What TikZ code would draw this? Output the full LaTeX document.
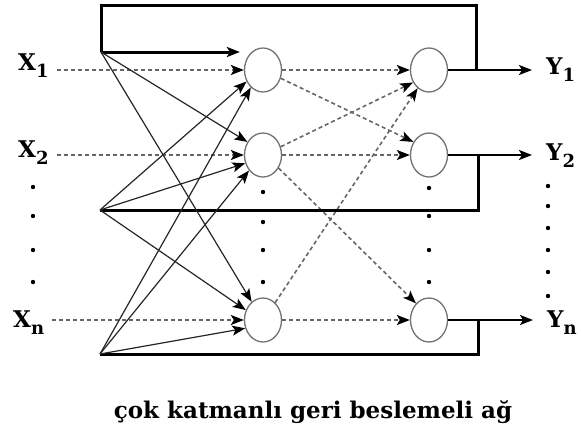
\documentclass[tikz,border=0pt]{standalone}
\usepackage{fontspec}
\setmainfont{DejaVu Serif}
\usepackage{tikz}
\usetikzlibrary{arrows.meta, calc, shapes.geometric}

\newcommand{\idx}[2]{#1\raisebox{-7pt}{\fontsize{18}{18}\selectfont #2}}

\begin{document}
\begin{tikzpicture}[
      x=1pt, y=-1pt, % pixel grid, downwards
      >={Stealth[length=13pt,width=10pt,inset=3pt,color=black]},
      font=\fontsize{23}{23}\selectfont\bfseries,
      neuron/.style={ellipse, draw=black!55, line width=1.3pt,
                     minimum width=37pt, minimum height=44pt, inner sep=0pt},
      inlink/.style={->, draw=black!60, line width=1.6pt, dash pattern=on 4pt off 3pt},
      fan/.style={->, draw=black!85, line width=1.2pt},
      back/.style={line width=3pt, black},
      outlink/.style={->, line width=2pt, black},
      dot/.style={fill=black},
    ]
    \useasboundingbox (0,0) rectangle (581,432);

    % ---- neurons ---------------------------------------------------------
    \node[neuron] (h1) at (263,70)  {};
    \node[neuron] (h2) at (263,155) {};
    \node[neuron] (h3) at (263,320) {};
    \node[neuron] (o1) at (429,70)  {};
    \node[neuron] (o2) at (429,155) {};
    \node[neuron] (o3) at (429,320) {};

    % ---- inputs and outputs ----------------------------------------------
    \node[anchor=base west, inner sep=0pt] (x1) at (18,70)  {\idx{X}{1}};
    \node[anchor=base west, inner sep=0pt] (x2) at (18,157) {\idx{X}{2}};
    \node[anchor=base west, inner sep=0pt] (xn) at (13,327) {\idx{X}{n}};
    \node[anchor=base west, inner sep=0pt] (y1) at (546,74)  {\idx{Y}{1}};
    \node[anchor=base west, inner sep=0pt] (y2) at (546,160) {\idx{Y}{2}};
    \node[anchor=base west, inner sep=0pt] (yn) at (547,327) {\idx{Y}{n}};

    % ---- feedback points -------------------------------------------------
    \coordinate (fa) at (101,52);
    \coordinate (fb) at (100,210);
    \coordinate (fc) at (100,354);
    \coordinate (t1) at (476,70);
    \coordinate (t2) at (478,155);
    \coordinate (t3) at (478,320);

    % ---- input layer -----------------------------------------------------
    \draw[inlink, shorten <=8pt] (x1.east |- h1) -- (h1.west);
    \draw[inlink, shorten <=8pt] (x2.east |- h2) -- (h2.west);
    \draw[inlink, shorten <=8pt] (xn.east |- h3) -- (h3.west);

    % ---- hidden to output ------------------------------------------------
    \foreach \s/\t in {h1.east/o1.west, h1.-25/o2.140, h2.25/o1.218,
                       h2.east/o2.west, h2.-40/o3.128, h3.55/o1.238,
                       h3.east/o3.west}
      \draw[inlink] (\s) -- (\t);

    % ---- outputs ---------------------------------------------------------
    \draw[outlink, shorten >=14pt] (o1.east) -- (o1 -| y1.west);
    \draw[outlink, shorten >=14pt] (o2.east) -- (o2 -| y2.west);
    \draw[outlink, shorten >=14pt] (o3.east) -- (o3 -| yn.west);

    % ---- feedback --------------------------------------------------------
    \draw[back] (t1) -- ++(0,-65) -| (fa);
    \draw[back] (t2) |- (fb);
    \draw[back] (t3) |- (fc);
    \draw[back, ->, shorten >=4pt] (fa) -- (fa -| h1.west);
    \foreach \s/\t in {fa/h2.140, fa/h3.122, fb/h1.215, fb/h2.205,
                       fb/h3.150, fc/h1.235, fc/h2.228, fc/h3.205}
      \draw[fan] (\s) -- (\t);

    % ---- dots ------------------------------------------------------------
    \foreach \y in {187,216,250,282} \fill[dot] (33,\y) circle (2.2pt);
    \foreach \y in {192,222,250,282} \fill[dot] (263,\y) circle (2.2pt);
    \foreach \y in {188,216,250,282} \fill[dot] (429,\y) circle (2.2pt);
    \foreach \y in {186,206,228,250,272,296} \fill[dot] (548,\y) circle (2.2pt);

    % ---- caption ---------------------------------------------------------
    \node[anchor=base, font=\fontsize{23}{23}\selectfont\bfseries] (cap) at (313,418)
      {çok katmanlı geri beslemeli ağ};
\end{tikzpicture}
\end{document}
